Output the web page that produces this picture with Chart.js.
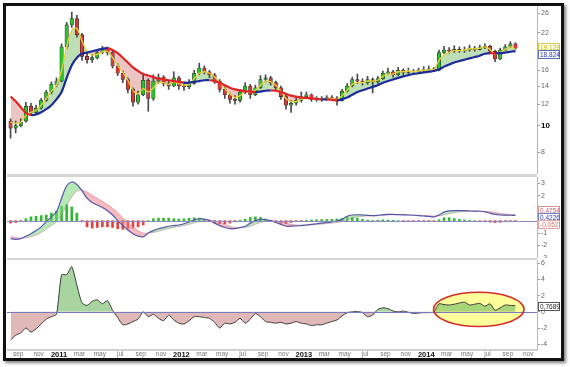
<!DOCTYPE html>
<html>
<head>
<meta charset="utf-8">
<script src="https://cdn.jsdelivr.net/npm/chart.js@4/dist/chart.umd.min.js"></script>
<style>
  body { margin: 0; background: #fff; }
  #wrap { position: relative; width: 570px; height: 367px; overflow: hidden; background: #fff; }
  #frame { position: absolute; left: 3px; top: 3px; width: 555px; height: 352px; border: 3px solid #111; box-shadow: 2px 2px 3px rgba(0,0,0,0.5); z-index: 5; }
  canvas { position: absolute; }
  .sep { position: absolute; left: 7px; width: 530px; background: #d6d6d6; }
</style>
</head>
<body>
<div id="wrap">
  <div id="frame"></div>
  <canvas id="priceChart" width="553" height="168" style="left:7px;top:6px"></canvas>
  <div class="sep" style="top:174px;height:3px"></div>
  <canvas id="macdChart" width="553" height="81" style="left:7px;top:177px"></canvas>
  <div class="sep" style="top:258px;height:2px"></div>
  <canvas id="oscChart" width="553" height="100" style="left:7px;top:260px"></canvas>
</div>
<script>
// half-month bars, x in months counted from jan 2011
const monthStart = -4.75;
const monthStep = 0.5;
const xTickLabels = ['sep','nov','2011','mar','may','jul','sep','nov','2012','mar','may','jul','sep','nov',
                     '2013','mar','may','jul','sep','nov','2014','mar','may','jul','sep','nov'];
const priceTicks = [8, 10, 12, 14, 16, 22, 26];
const macdTicks = [3, 2, -1, -2, -3];
const oscTicks = [6, 4, 2, 0, -2, -4];

const opens = [10.4, 9.8, 10.0, 10.4, 11.8, 11.2, 11.6, 12.4, 13.3, 14.2,
  14.6, 19.5, 23.5, 24.8, 21.6, 18.0, 17.5, 17.8, 18.6, 19.2,
  18.6, 16.6, 15.6, 14.8, 13.6, 12.2, 13.0, 14.7, 12.6, 14.6,
  15.1, 14.3, 14.0, 15.0, 14.0, 13.9, 14.3, 15.6, 16.3, 15.8,
  15.4, 14.6, 13.6, 13.0, 12.5, 12.4, 13.3, 14.0, 13.0, 13.8,
  14.8, 15.0, 14.4, 13.8, 12.8, 11.9, 12.1, 12.4, 12.8, 13.0,
  12.5, 12.6, 12.5, 12.7, 12.6, 12.4, 13.4, 14.0, 14.8, 14.6,
  14.4, 14.8, 14.5, 14.9, 15.6, 15.8, 15.4, 16.0, 15.7, 15.9,
  15.8, 16.0, 16.1, 16.2, 16.0, 18.6, 19.0, 18.8, 19.1, 18.9,
  19.0, 19.3, 19.1, 19.4, 19.6, 18.8, 17.6, 19.0, 19.5, 20.0];
const highs = [10.6, 10.4, 10.6, 12.2, 12.1, 11.9, 12.6, 13.5, 14.5, 15.0,
  20.0, 24.0, 26.2, 25.5, 21.9, 18.6, 18.3, 19.0, 19.6, 19.5,
  18.8, 16.9, 15.9, 15.0, 13.8, 13.4, 15.6, 14.9, 15.4, 15.5,
  15.3, 14.6, 15.8, 15.2, 14.5, 14.8, 16.0, 17.0, 16.6, 16.0,
  15.6, 14.8, 13.9, 13.2, 12.9, 13.6, 14.4, 14.2, 14.1, 15.3,
  15.4, 15.2, 14.6, 14.0, 13.0, 12.4, 12.7, 13.3, 13.3, 13.1,
  12.8, 12.8, 12.9, 12.9, 12.8, 13.6, 14.3, 15.1, 15.5, 14.9,
  15.2, 15.0, 15.2, 15.9, 16.3, 16.0, 16.4, 16.2, 16.3, 16.1,
  16.3, 16.5, 16.6, 16.4, 19.0, 19.6, 19.4, 19.7, 19.5, 19.5,
  19.8, 19.6, 19.8, 20.0, 19.8, 19.0, 19.3, 19.9, 20.4, 20.2];
const lows = [9.0, 9.4, 9.9, 10.3, 10.9, 11.0, 11.5, 12.3, 13.1, 13.9,
  14.5, 19.2, 23.0, 21.2, 17.4, 17.0, 17.1, 17.6, 18.4, 18.2,
  16.3, 15.3, 14.4, 13.2, 11.8, 12.0, 12.9, 11.3, 12.4, 14.3,
  14.0, 13.6, 13.9, 13.6, 13.5, 13.7, 14.2, 15.4, 15.5, 15.0,
  14.3, 13.3, 12.6, 12.1, 12.0, 12.2, 13.1, 12.6, 12.9, 13.7,
  14.5, 14.1, 13.5, 12.5, 11.5, 11.2, 11.9, 12.2, 12.6, 12.3,
  12.3, 12.3, 12.4, 12.4, 11.9, 12.3, 13.3, 13.9, 14.3, 14.1,
  14.2, 13.2, 14.3, 14.8, 15.4, 15.1, 15.3, 15.4, 15.5, 15.5,
  15.6, 15.8, 15.9, 15.8, 15.9, 18.4, 18.5, 18.6, 18.6, 18.6,
  18.8, 18.8, 19.0, 19.2, 18.4, 17.2, 17.5, 18.9, 19.4, 19.1];
const closes = [9.8, 10.0, 10.3, 11.8, 11.2, 11.6, 12.4, 13.3, 14.2, 14.6,
  19.5, 23.5, 24.8, 21.6, 18.0, 17.5, 17.8, 18.6, 19.2, 18.6,
  16.6, 15.6, 14.8, 13.6, 12.2, 13.0, 14.7, 12.6, 14.6, 15.1,
  14.3, 14.0, 15.0, 14.0, 13.9, 14.3, 15.6, 16.3, 15.8, 15.4,
  14.6, 13.6, 13.0, 12.5, 12.4, 13.3, 14.0, 13.0, 13.8, 14.8,
  15.0, 14.4, 13.8, 12.8, 11.9, 12.1, 12.4, 12.8, 13.0, 12.5,
  12.6, 12.5, 12.7, 12.6, 12.4, 13.4, 14.0, 14.8, 14.6, 14.4,
  14.8, 14.5, 14.9, 15.6, 15.8, 15.4, 16.0, 15.7, 15.9, 15.8,
  16.0, 16.1, 16.2, 16.0, 18.6, 19.0, 18.8, 19.1, 18.9, 19.0,
  19.3, 19.1, 19.4, 19.6, 18.8, 17.6, 19.0, 19.5, 20.0, 19.3];
const fastMA = [10.3, 10.2, 10.3, 10.9, 11.2, 11.4, 11.9, 12.6, 13.4, 14.1,
  16.0, 19.5, 22.5, 22.8, 20.5, 18.8, 18.2, 18.3, 18.7, 18.8,
  17.8, 16.7, 15.7, 14.7, 13.5, 13.1, 13.7, 13.3, 13.8, 14.4,
  14.4, 14.2, 14.5, 14.3, 14.1, 14.2, 14.9, 15.6, 15.8, 15.6,
  15.1, 14.4, 13.7, 13.1, 12.7, 12.9, 13.4, 13.3, 13.5, 14.1,
  14.6, 14.5, 14.1, 13.4, 12.6, 12.3, 12.3, 12.5, 12.7, 12.6,
  12.6, 12.55, 12.6, 12.6, 12.5, 12.9, 13.5, 14.2, 14.4, 14.4,
  14.6, 14.6, 14.7, 15.2, 15.5, 15.5, 15.8, 15.8, 15.9, 15.8,
  15.9, 16.0, 16.1, 16.1, 17.4, 18.3, 18.6, 18.9, 18.9, 19.0,
  19.2, 19.2, 19.3, 19.5, 19.1, 18.3, 18.6, 19.1, 19.5, 19.129];
const slowMA = [12.8, 12.3, 11.7, 11.15, 10.95, 11.0, 11.2, 11.5, 11.9, 12.5,
  13.3, 15.0, 16.7, 17.8, 18.4, 18.6, 18.8, 19.0, 19.2, 19.3,
  19.0, 18.5, 17.8, 17.1, 16.4, 15.9, 15.5, 15.3, 15.1, 14.9,
  14.8, 14.7, 14.6, 14.5, 14.4, 14.4, 14.5, 14.6, 14.7, 14.7,
  14.6, 14.4, 14.1, 13.8, 13.6, 13.5, 13.4, 13.35, 13.3, 13.35,
  13.45, 13.5, 13.45, 13.3, 13.1, 12.9, 12.8, 12.7, 12.65, 12.6,
  12.55, 12.5, 12.5, 12.45, 12.4, 12.5, 12.7, 13.0, 13.3, 13.5,
  13.7, 13.9, 14.1, 14.4, 14.6, 14.8, 15.0, 15.2, 15.35, 15.5,
  15.6, 15.7, 15.8, 15.9, 16.1, 16.5, 16.8, 17.1, 17.3, 17.5,
  17.7, 17.9, 18.1, 18.4, 18.5, 18.45, 18.5, 18.6, 18.72, 18.824];

const macdLine = [-1.45, -1.5, -1.45, -1.25, -1.05, -0.8, -0.5, -0.1, 0.3, 0.7,
  1.8, 2.8, 3.1, 2.9, 2.4, 1.8, 1.45, 1.25, 1.05, 0.8,
  0.45, 0.0, -0.4, -0.75, -1.05, -1.25, -1.3, -1.0, -0.8, -0.65,
  -0.55, -0.45, -0.4, -0.35, -0.25, -0.1, 0.05, 0.15, 0.12, 0.0,
  -0.2, -0.4, -0.55, -0.65, -0.65, -0.55, -0.45, -0.2, 0.0, 0.1,
  0.08, 0.0, -0.15, -0.3, -0.45, -0.45, -0.42, -0.4, -0.35, -0.3,
  -0.25, -0.2, -0.15, -0.1, -0.02, 0.1, 0.35, 0.45, 0.47, 0.45,
  0.42, 0.4, 0.42, 0.48, 0.5, 0.5, 0.48, 0.46, 0.45, 0.43,
  0.4, 0.37, 0.34, 0.3, 0.45, 0.68, 0.78, 0.8, 0.8, 0.8,
  0.78, 0.76, 0.75, 0.7, 0.6, 0.5, 0.45, 0.44, 0.43, 0.4226];
const signalLine = [-1.25, -1.35, -1.4, -1.38, -1.3, -1.15, -0.95, -0.7, -0.4, -0.1,
  0.45, 1.2, 1.9, 2.35, 2.45, 2.3, 2.05, 1.8, 1.55, 1.3,
  1.0, 0.65, 0.25, -0.15, -0.5, -0.8, -1.0, -1.0, -0.95, -0.85,
  -0.75, -0.65, -0.55, -0.48, -0.4, -0.3, -0.18, -0.05, 0.05, 0.06,
  -0.02, -0.15, -0.3, -0.45, -0.55, -0.58, -0.55, -0.45, -0.3, -0.15,
  -0.05, 0.0, -0.03, -0.1, -0.2, -0.3, -0.35, -0.37, -0.37, -0.35,
  -0.32, -0.28, -0.24, -0.2, -0.15, -0.08, 0.05, 0.18, 0.28, 0.34,
  0.38, 0.39, 0.4, 0.42, 0.45, 0.47, 0.48, 0.48, 0.47, 0.46,
  0.44, 0.42, 0.4, 0.37, 0.38, 0.45, 0.55, 0.64, 0.7, 0.74,
  0.76, 0.76, 0.76, 0.75, 0.72, 0.66, 0.59, 0.53, 0.5, 0.4754];
const macdHist = [-0.2, -0.15, -0.05, 0.15, 0.3, 0.35, 0.4, 0.45, 0.6, 0.75,
  1.15, 1.3, 1.1, 0.6, -0.1, -0.5, -0.6, -0.55, -0.5, -0.5,
  -0.55, -0.65, -0.7, -0.65, -0.6, -0.5, -0.35, 0.0, 0.15, 0.2,
  0.2, 0.2, 0.15, 0.13, 0.15, 0.2, 0.22, 0.2, 0.07, -0.06,
  -0.18, -0.25, -0.25, -0.2, -0.1, 0.03, 0.1, 0.25, 0.3, 0.25,
  0.13, 0.0, -0.12, -0.2, -0.25, -0.15, -0.07, -0.03, 0.02, 0.05,
  0.07, 0.08, 0.09, 0.1, 0.13, 0.18, 0.3, 0.27, 0.19, 0.11,
  0.04, 0.01, 0.02, 0.06, 0.05, 0.03, 0.0, -0.02, -0.02, -0.03,
  -0.04, -0.05, -0.06, -0.07, 0.07, 0.23, 0.23, 0.16, 0.1, 0.06,
  0.02, 0.0, -0.01, -0.05, -0.12, -0.16, -0.14, -0.09, -0.07, -0.0529];

const oscillator = [-3.5, -2.9, -2.6, -2.0, -2.5, -2.1, -1.5, -0.9, -0.6, -0.3,
  4.6, 4.6, 5.6, 3.3, 1.1, 0.8, 1.3, 1.5, 1.0, 1.4,
  0.2, -0.7, -1.6, -1.5, -1.2, -0.9, 0.0, -0.6, -0.3, -0.8,
  -1.1, -0.4, -1.0, -1.4, -1.5, -1.1, -0.6, -0.6, -0.7, -0.8,
  -1.3, -2.0, -1.4, -1.5, -1.3, -0.8, -1.4, -0.9, -0.2, -0.6,
  -1.2, -1.3, -1.4, -1.3, -1.5, -1.4, -1.2, -1.4, -1.5, -1.7,
  -1.6, -1.6, -1.4, -1.2, -1.0, -0.5, -0.1, 0.0, 0.05, -0.1,
  -0.6, -0.4, 0.3, 0.5, 0.4, 0.1, 0.0, 0.1, -0.05, -0.2,
  -0.15, -0.1, -0.1, 0.0, 1.0, 0.9, 0.85, 0.95, 1.1, 1.2,
  0.85, 0.95, 1.05, 0.7, 1.0, 0.2, 0.5, 0.85, 0.8, 0.7689];

Chart.defaults.font.family = "'Liberation Sans', Arial, sans-serif";
Chart.defaults.font.size = 7;
Chart.defaults.color = '#666';

const xs = closes.map((_, i) => monthStart + i * monthStep);
const pts = arr => arr.map((v, i) => ({ x: xs[i], y: v }));
const fmt = (v, d) => v.toFixed(d).replace('.', ',');
const last = arr => arr[arr.length - 1];
const isYear = v => Math.abs(v % 12) < 0.01;

function xScale(show) {
  return {
    type: 'linear', min: -5.1, max: 46.86, offset: false, display: show,
    grid: { display: true, drawOnChartArea: false, drawTicks: false, color: '#c8c8c8' },
    border: { display: true, color: '#d0d0d0', width: 2 },
    afterBuildTicks: s => { s.ticks = xTickLabels.map((_, k) => ({ value: -4 + 2 * k })); },
    afterFit: s => { s.paddingLeft = 0; s.paddingRight = 0; },
    ticks: {
      autoSkip: false, maxRotation: 0, minRotation: 0, padding: 1,
      color: c => (c.tick && isYear(c.tick.value)) ? '#111' : '#777',
      font: c => (c.tick && isYear(c.tick.value)) ? { size: 7.5, weight: 'bold', lineHeight: 1.1 } : { size: 6.5, lineHeight: 1.1 },
      callback: (v, k) => xTickLabels[k]
    }
  };
}

function yScale(type, min, max, tickVals) {
  return {
    type: type, position: 'right', min: min, max: max,
    grid: { drawOnChartArea: false, drawTicks: true, tickLength: 3, color: '#999' },
    border: { display: true, color: '#b8b8b8' },
    afterBuildTicks: s => { s.ticks = tickVals.map(v => ({ value: v })); },
    afterFit: s => { s.width = 23; s.paddingTop = 0; s.paddingBottom = 0; },
    ticks: {
      padding: 1,
      color: c => (c.tick && c.tick.value === 10 && type === 'logarithmic') ? '#000' : '#666',
      font: c => (c.tick && c.tick.value === 10 && type === 'logarithmic') ? { size: 8, weight: 'bold' } : { size: 7 },
      callback: v => String(v)
    }
  };
}

// zero lines, last-value boxes and the highlight ellipse
function ellipsePath(chart, e) {
  const { ctx, scales: { x, y } } = chart;
  const cx = x.getPixelForValue(e.x), cy = y.getPixelForValue(e.y);
  const rx = x.getPixelForValue(e.x + e.rx) - cx, ry = cy - y.getPixelForValue(e.y + e.ry);
  ctx.beginPath();
  ctx.ellipse(cx, cy, rx, ry, 0, 0, Math.PI * 2);
}

const panelExtras = {
  id: 'panelExtras',
  beforeDatasetsDraw(chart, args, opts) {
    if (!opts.ellipse) return;
    const ctx = chart.ctx;
    ctx.save();
    ellipsePath(chart, opts.ellipse);
    ctx.fillStyle = '#ffff9c';
    ctx.fill();
    ctx.restore();
  },
  afterDatasetsDraw(chart, args, opts) {
    const { ctx, chartArea: a, scales: { y } } = chart;
    if (opts.zeroColor) {
      const py = Math.round(y.getPixelForValue(0)) + 0.5;
      ctx.save();
      ctx.strokeStyle = opts.zeroColor;
      ctx.lineWidth = 1;
      ctx.beginPath();
      ctx.moveTo(a.left, py);
      ctx.lineTo(a.right, py);
      ctx.stroke();
      ctx.restore();
    }
    if (opts.ellipse) {
      ctx.save();
      ellipsePath(chart, opts.ellipse);
      ctx.strokeStyle = '#d42a2a';
      ctx.lineWidth = 1.6;
      ctx.stroke();
      ctx.restore();
    }
  },
  afterDraw(chart, args, opts) {
    if (!opts.labels) return;
    const { ctx, chartArea: a, scales: { y } } = chart;
    const items = opts.labels.map(l => Object.assign({}, l, { py: y.getPixelForValue(l.value) }));
    items.sort((p, q) => p.py - q.py);
    for (let it = 0; it < 30; it++) {
      for (let k = 1; k < items.length; k++) {
        const gap = items[k].py - items[k - 1].py;
        if (gap < 7) { const d = (7 - gap) / 2; items[k - 1].py -= d; items[k].py += d; }
      }
    }
    ctx.save();
    ctx.font = "6.5px 'Liberation Sans', Arial, sans-serif";
    ctx.textBaseline = 'middle';
    items.forEach(l => {
      const w = Math.min(Math.ceil(ctx.measureText(l.text).width) + 3, chart.width - a.right - 2);
      const bx = a.right + 1.5, by = Math.round(l.py - 4) + 0.5;
      ctx.fillStyle = l.bg || '#fff';
      ctx.fillRect(bx, by, w, 8);
      ctx.strokeStyle = l.border;
      ctx.lineWidth = 1;
      ctx.strokeRect(bx, by, w, 8);
      ctx.fillStyle = l.color;
      ctx.fillText(l.text, bx + 1.5, by + 4.5);
    });
    ctx.restore();
  }
};

const common = {
  responsive: false, animation: false, devicePixelRatio: 1, events: [],
  layout: { padding: 0 },
  elements: { point: { radius: 0 } }
};

new Chart(document.getElementById('priceChart'), {
  type: 'bar',
  plugins: [panelExtras],
  data: {
    datasets: [
      { type: 'line', data: pts(slowMA), borderWidth: 2.2, fill: false, tension: 0.3, order: 0,
        borderColor: '#1c2a9c',
        segment: { borderColor: c => slowMA[c.p1DataIndex] >= slowMA[c.p0DataIndex] ? '#1c2a9c' : '#e02424' } },
      { type: 'line', data: pts(fastMA), borderWidth: 0, borderColor: 'rgba(0,0,0,0)', tension: 0.3, order: 5,
        fill: { target: 0, above: 'rgba(110,185,90,0.45)', below: 'rgba(205,100,100,0.38)' } },
      { type: 'line', data: pts(fastMA), borderWidth: 1.3, borderColor: '#e6d23a', fill: false, tension: 0.3, order: 1 },
      { type: 'bar', data: lows.map((l, i) => ({ x: xs[i], y: [l, highs[i]] })), barThickness: 1,
        backgroundColor: '#4a4a4a', grouped: false, order: 3 },
      { type: 'bar', data: opens.map((o, i) => ({ x: xs[i], y: [o, closes[i]] })), barThickness: 3.5,
        backgroundColor: c => closes[c.dataIndex] >= opens[c.dataIndex] ? '#2fbf2f' : '#d83a3a',
        borderColor: '#2a2a2a', borderWidth: 0.6, borderSkipped: false, grouped: false, order: 2 }
    ]
  },
  options: Object.assign({}, common, {
    scales: { x: xScale(false), y: yScale('logarithmic', 6.64, 27.59, priceTicks) },
    plugins: {
      legend: { display: false }, tooltip: { enabled: false },
      panelExtras: { labels: [
        { value: last(fastMA), text: fmt(last(fastMA), 3), color: '#c8b400', border: '#d8cc50', bg: '#fffff0' },
        { value: last(slowMA), text: fmt(last(slowMA), 3), color: '#2a3aa8', border: '#5a6ac0' }
      ] }
    }
  })
});

new Chart(document.getElementById('macdChart'), {
  type: 'bar',
  plugins: [panelExtras],
  data: {
    datasets: [
      { type: 'line', data: pts(macdLine), borderWidth: 1.2, borderColor: '#5656a8', fill: false, tension: 0.3, order: 1 },
      { type: 'line', data: pts(signalLine), borderWidth: 0.7, borderColor: 'rgba(190,120,150,0.7)', tension: 0.3, order: 2,
        fill: { target: 0, above: 'rgba(238,128,135,0.55)', below: 'rgba(120,215,120,0.55)' } },
      { type: 'bar', data: pts(macdHist), barThickness: 2, grouped: false, order: 3,
        backgroundColor: c => macdHist[c.dataIndex] >= 0 ? '#30b830' : '#e84040' }
    ]
  },
  options: Object.assign({}, common, {
    scales: { x: xScale(false), y: yScale('linear', -3, 3.5, macdTicks) },
    plugins: {
      legend: { display: false }, tooltip: { enabled: false },
      panelExtras: { zeroColor: '#8c8cc0', labels: [
        { value: last(signalLine), text: fmt(last(signalLine), 4), color: '#d06070', border: '#e09090' },
        { value: last(macdLine), text: fmt(last(macdLine), 4), color: '#3040c0', border: '#7080c8' },
        { value: last(macdHist), text: fmt(last(macdHist), 4), color: '#e06a6a', border: '#e8a0a0' }
      ] }
    }
  })
});

new Chart(document.getElementById('oscChart'), {
  type: 'line',
  plugins: [panelExtras],
  data: {
    datasets: [
      { data: pts(oscillator), borderWidth: 1, borderColor: '#3a3a3a', tension: 0.2,
        fill: { target: { value: 0 }, above: 'rgba(110,185,95,0.6)', below: 'rgba(200,125,125,0.55)' } }
    ]
  },
  options: Object.assign({}, common, {
    scales: { x: xScale(true), y: yScale('linear', -4.69, 6.42, oscTicks) },
    plugins: {
      legend: { display: false }, tooltip: { enabled: false },
      panelExtras: {
        zeroColor: '#7a7ac0',
        ellipse: { x: 41.15, y: 0.31, rx: 4.44, ry: 2.12 },
        labels: [ { value: last(oscillator), text: fmt(last(oscillator), 4), color: '#222', border: '#555' } ]
      }
    }
  })
});
</script>
</body>
</html>
